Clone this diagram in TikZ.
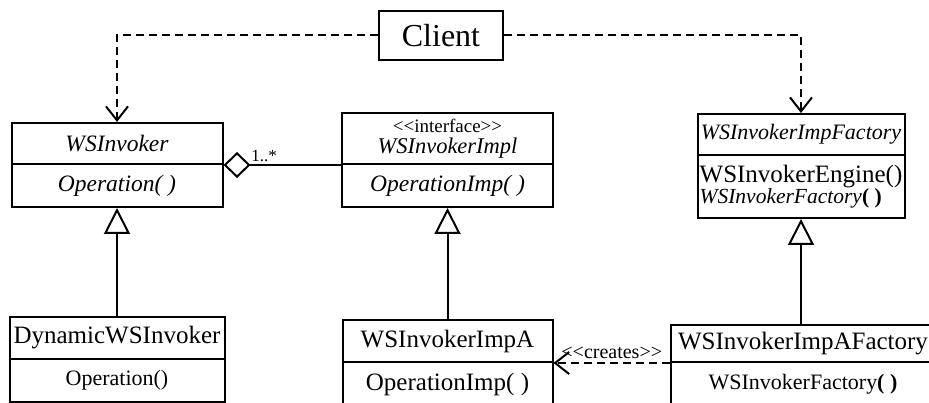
\documentclass[tikz,border=0pt]{standalone}
\usepackage{fontspec}
\setmainfont{Liberation Serif}
\usetikzlibrary{arrows.meta}

\begin{document}
\begin{tikzpicture}[
  box/.style={draw, line width=2pt, inner sep=0pt},
  reg/.style={font=\fontsize{25}{27}\selectfont},
  sml/.style={font=\fontsize{22}{24}\selectfont},
  ita/.style={font=\fontsize{23.5}{24}\selectfont\itshape},
  dep/.style={line width=2pt, dash pattern=on 8pt off 5pt, -{Straight Barb[length=14pt,width=22pt]}},
  gen/.style={-{Triangle[open,length=26pt,width=26pt,fill=white]}, line width=2pt}
]

\clip (0pt,0pt) rectangle (929pt,-403pt);

\node (client) at(441pt,-35.5pt) [box, minimum width=124pt, minimum height=49pt, font=\fontsize{32}{34}\selectfont] {Client};

%-----------------------------------------------------
\node (invoker) at(117pt,-143.5pt) [box, ita, minimum width=211pt, minimum height=41pt] {WSInvoker};
\node (invokerops) at(117pt,-185.5pt) [box, ita, minimum width=211pt, minimum height=43pt] {Operation( )};

\node (impl) at(447.5pt,-138.5pt) [box, minimum width=211pt, minimum height=51pt, align=center, font=\fontsize{22.5}{21}\selectfont] {{\fontsize{19}{21}\selectfont <{}<interface>{}>}\\\textit{WSInvokerImpl}};
\node (implops) at(447.5pt,-185.5pt) [box, ita, minimum width=211pt, minimum height=43pt] {OperationImp( )};

\node (factory) at(801pt,-134.5pt) [box, minimum width=207pt, minimum height=41pt, font=\fontsize{22}{24}\selectfont\itshape] {WSInvokerImpFactory};
\node (factoryops) at(801pt,-186.5pt) [box, minimum width=207pt, minimum height=63pt, align=left, font=\fontsize{25}{20}\selectfont] {WSInvokerEngine()\\{\fontsize{21.5}{20}\selectfont\textit{WSInvokerFactory}\textbf{( )}}};

%-----------------------------------------------------
\node (dynamic) at(117pt,-338pt) [box, reg, minimum width=215pt, minimum height=42pt] {DynamicWSInvoker};
\node (dynamicops) at(117pt,-380.5pt) [box, sml, minimum width=215pt, minimum height=43pt] {Operation()};

\node (impa) at(447.5pt,-341pt) [box, reg, minimum width=210pt, minimum height=42pt] {WSInvokerImpA};
\node (impaops) at(447.5pt,-384pt) [box, reg, minimum width=210pt, minimum height=44pt] {OperationImp( )};

\node (factorya) at(803pt,-343.5pt) [box, reg, minimum width=264pt, minimum height=37pt] {WSInvokerImpAFactory};
\node (factoryaops) at(803pt,-384pt) [box, sml, minimum width=264pt, minimum height=44pt] {WSInvokerFactory\textbf{( )}};

%-----------------------------------------------------
\draw [dep] (client.west) -| (invoker.north);
\draw [dep] (client.east) -| (factory.north);

\draw [line width=2pt, {Diamond[open,length=27pt,width=26pt,fill=white]}-] (invoker.south east) -- node[pos=.345, above, inner sep=2pt, font=\fontsize{17}{17}\selectfont] {1..*} (impl.south west);

%-----------------------------------------------------
\path (dynamic.north) edge[gen] (invokerops.south);
\path (impa.north) edge[gen] (implops.south);
\path (factoryops.south |- factorya.north) edge[gen] (factoryops.south);

\draw [dep] (factorya.south west) -- node[above, inner sep=3pt, font=\fontsize{20}{20}\selectfont] {<{}<creates>{}>} (impa.south east);

\end{tikzpicture}
\end{document}
